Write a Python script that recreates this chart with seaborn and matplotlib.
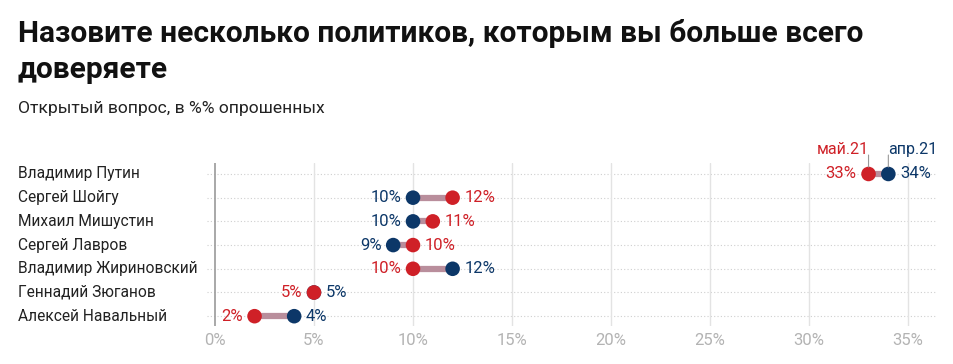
import pandas as pd
import matplotlib.pyplot as plt
import matplotlib.transforms as mtransforms
import seaborn as sns

# Data
politicians = ["Владимир Путин", "Сергей Шойгу", "Михаил Мишустин", "Сергей Лавров",
               "Владимир Жириновский", "Геннадий Зюганов", "Алексей Навальный"]
apr21 = [34, 10, 10, 9, 12, 5, 4]
may21 = [33, 12, 11, 10, 10, 5, 2]
x_ticks = [0, 5, 10, 15, 20, 25, 30, 35]

RED = "#cf2027"
BLUE = "#0c3768"
colors = {"апр.21": BLUE, "май.21": RED}

sns.set_style("white")
plt.rcParams["font.family"] = ["Roboto", "DejaVu Sans"]

# long table for seaborn
rows = []
for i, name in enumerate(politicians):
    rows.append({"name": name, "row": i, "period": "апр.21", "value": apr21[i]})
    rows.append({"name": name, "row": i, "period": "май.21", "value": may21[i]})
df = pd.DataFrame(rows)

fig = plt.figure(figsize=(9.54, 3.64), dpi=100)
ax = fig.add_axes([0.217, 0.104, 0.764, 0.448])

# dotted row guides and vertical grid
for i in range(len(politicians)):
    ax.axhline(i, color="#cfcfcf", lw=0.8, ls=(0, (1, 2)), zorder=0)
for t in x_ticks[1:]:
    ax.axvline(t, color="#e3e3e3", lw=1, zorder=0)
ax.axvline(0, color="#9a9a9a", lw=1.2, zorder=1)

# connectors
for i in range(len(politicians)):
    ax.plot([apr21[i], may21[i]], [i, i], color="#b98e9c", lw=4.5,
            solid_capstyle="butt", zorder=2)

sns.scatterplot(data=df, x="value", y="row", hue="period", palette=colors,
                s=110, edgecolor="none", legend=False, zorder=3, ax=ax)

# value labels: lower value on the left, higher on the right
for i in range(len(politicians)):
    a, m = apr21[i], may21[i]
    if a < m:
        left, right = ("апр.21", a), ("май.21", m)
    else:
        # equal values: red on the left, blue on the right
        left, right = ("май.21", m), ("апр.21", a)
    for (p, v), ha, off in [(left, "right", -8.5), (right, "left", 8.5)]:
        ax.annotate(f"{v}%", (v, i), xytext=(off, 0), textcoords="offset points",
                    ha=ha, va="center", fontsize=12, color=colors[p])

# series labels above the top row
for p, v, ha in [("май.21", may21[0], "right"), ("апр.21", apr21[0], "left")]:
    ax.annotate(p, (v, 0), xytext=(0, 12), textcoords="offset points",
                ha=ha, va="bottom", fontsize=11.5, color=colors[p],
                annotation_clip=False)
    ax.annotate("", (v, 0), xytext=(v, -0.8), textcoords="data",
                arrowprops=dict(arrowstyle="-", color="#999999", lw=0.8,
                                shrinkA=0, shrinkB=5),
                annotation_clip=False)

ax.set_xlim(-0.4, 36.4)
ax.set_ylim(6.42, -0.46)
ax.set_xticks(x_ticks)
ax.set_xticklabels([f"{t}%" for t in x_ticks], color="#b3b3b3", fontsize=12)
ax.tick_params(axis="x", length=0, pad=5)
ax.set_yticks([])
ax.set_xlabel("")
ax.set_ylabel("")
sns.despine(ax=ax, left=True, bottom=True)

# politician names at the left edge of the figure
name_tr = mtransforms.blended_transform_factory(fig.transFigure, ax.transData)
for i, name in enumerate(politicians):
    ax.text(18 / 954, i, name, transform=name_tr,
            ha="left", va="center", fontsize=11.2, color="#222222")

fig.text(18 / 954, 1 - 19 / 364, "Назовите несколько политиков, которым вы больше всего\nдоверяете",
         ha="left", va="top", fontsize=21.5, fontweight="bold", color="#111111", linespacing=1.38)
fig.text(18 / 954, 1 - 108 / 364, "Открытый вопрос, в %% опрошенных",
         ha="left", va="center", fontsize=12.6, color="#222222")

fig.savefig("out.png", dpi=100)
